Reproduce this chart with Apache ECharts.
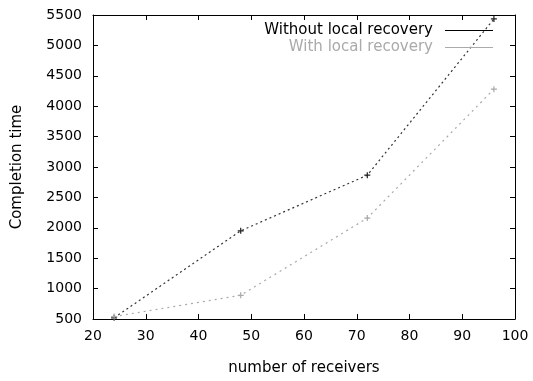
<!DOCTYPE html>
<html><head><meta charset="utf-8">
<script src="https://cdn.jsdelivr.net/npm/echarts@6/dist/echarts.min.js"></script>
<style>html,body{margin:0;padding:0;background:#fff}#c{width:533px;height:381px}</style>
</head><body><div id="c"></div>
<script>
const receivers = [24, 48, 72, 96];
const withoutLocal = [520, 1950, 2865, 5435];
const withLocal = [540, 890, 2160, 4280];
const seriesNames = ['Without local recovery', 'With local recovery'];
const xAxisTitle = 'number of receivers';
const yAxisTitle = 'Completion time';

const font = 'DejaVu Sans, sans-serif';
const plus = 'path://M4,0H6V4H10V6H6V10H4V6H0V4H4Z';
const chart = echarts.init(document.getElementById('c'));
const pair = (xs, ys) => xs.map((x, i) => [x, ys[i]]);
const hiddenAxis = {
  axisLine: {show: true, lineStyle: {color: '#000', width: 1}},
  axisTick: {show: true, inside: true, length: 5, lineStyle: {color: '#000'}},
  axisLabel: {show: false}, splitLine: {show: false}
};
chart.setOption({
  animation: false,
  backgroundColor: '#fff',
  grid: {left: 93, right: 18, top: 15, bottom: 59},
  legend: {
    orient: 'vertical', right: 35, top: 18, align: 'right',
    itemWidth: 48, itemHeight: 10, itemGap: 2,
    textStyle: {fontFamily: font, fontSize: 15, padding: [0, 7, 0, 0]},
    data: [
      {name: seriesNames[0], icon: 'path://M0,0H48V1H0Z', itemStyle: {color: '#000'}, textStyle: {color: '#000'}},
      {name: seriesNames[1], icon: 'path://M0,0H48V1H0Z', itemStyle: {color: '#aaa'}, textStyle: {color: '#aaa'}}
    ]
  },
  xAxis: [{
    type: 'value', min: 20, max: 100, interval: 10,
    name: xAxisTitle, nameLocation: 'middle', nameGap: 42,
    nameTextStyle: {fontFamily: font, fontSize: 15, color: '#000'},
    axisLine: {show: true, lineStyle: {color: '#000', width: 1}},
    axisTick: {show: true, inside: true, length: 5, lineStyle: {color: '#000'}},
    axisLabel: {fontFamily: font, fontSize: 14, color: '#000', margin: 10},
    splitLine: {show: false}
  }, Object.assign({type: 'value', min: 20, max: 100, interval: 10, position: 'top'}, hiddenAxis)],
  yAxis: [{
    type: 'value', min: 500, max: 5500, interval: 500,
    name: yAxisTitle, nameLocation: 'middle', nameGap: 68,
    nameTextStyle: {fontFamily: font, fontSize: 15, color: '#000'},
    axisLine: {show: true, lineStyle: {color: '#000', width: 1}},
    axisTick: {show: true, inside: true, length: 5, lineStyle: {color: '#000'}},
    axisLabel: {fontFamily: font, fontSize: 14, color: '#000', margin: 11, formatter: v => String(v)},
    splitLine: {show: false}
  }, Object.assign({type: 'value', min: 500, max: 5500, interval: 500, position: 'right'}, hiddenAxis)],
  series: [
    {name: seriesNames[0], type: 'line', data: pair(receivers, withoutLocal),
     symbol: plus, symbolSize: 6, itemStyle: {color: '#222'},
     lineStyle: {color: '#333', width: 1.2, type: [2, 3]}},
    {name: seriesNames[1], type: 'line', data: pair(receivers, withLocal),
     symbol: plus, symbolSize: 6, itemStyle: {color: '#aaa'},
     lineStyle: {color: '#aaa', width: 1.2, type: [2, 4]}}
  ]
});
</script></body></html>
